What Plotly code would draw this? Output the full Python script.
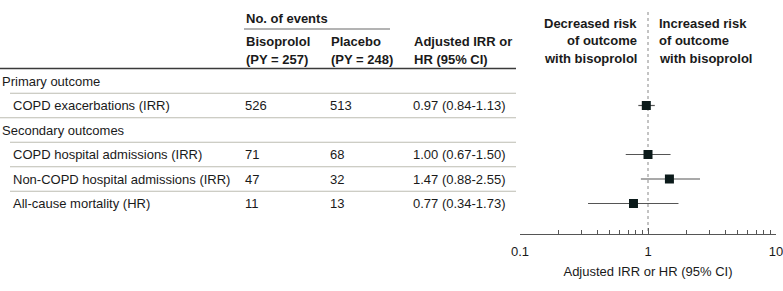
import plotly.graph_objects as go

# ---- data ----
row_labels = ["Primary outcome", "COPD exacerbations (IRR)", "Secondary outcomes",
              "COPD hospital admissions (IRR)", "Non-COPD hospital admissions (IRR)",
              "All-cause mortality (HR)"]
is_section = [True, False, True, False, False, False]
bisoprolol_events = ["", "526", "", "71", "47", "11"]
placebo_events = ["", "513", "", "68", "32", "13"]
estimate = [None, 0.97, None, 1.00, 1.47, 0.77]
ci_low = [None, 0.84, None, 0.67, 0.88, 0.34]
ci_high = [None, 1.13, None, 1.50, 2.55, 1.73]
tick_vals = [0.1, 1, 10]
tick_text = ["0.1", "1", "10"]
minor_vals = [0.2, 0.3, 0.4, 0.5, 0.6, 0.7, 0.8, 0.9, 2, 3, 4, 5, 6, 7, 8, 9]

W, H = 783, 291
FONT = "Liberation Sans, Arial, sans-serif"
TXT = "#1a1a1a"
ROW0, ROWSTEP = 81, 24.5
AXIS_Y = 234
FS = 13


def row_of(px):
    return (px - ROW0) / ROWSTEP


def px(x):
    return x / W


yr_top = row_of(0)
yr_bot = row_of(AXIS_Y)

fig = go.Figure()

# forest points
rows = [i for i, e in enumerate(estimate) if e is not None]
xs = [estimate[i] for i in rows]
fig.add_trace(go.Scatter(
    x=xs, y=rows, mode="markers",
    marker=dict(symbol="square", size=9, color="#0b1a1a"),
    error_x=dict(type="data", symmetric=False,
                 array=[ci_high[i] - estimate[i] for i in rows],
                 arrayminus=[estimate[i] - ci_low[i] for i in rows],
                 color="#555555", thickness=1.2, width=0),
    showlegend=False, hoverinfo="skip", cliponaxis=False,
))

ann = []
shapes = []


def text(x, y, s, bold=False, anchor="left", size=FS):
    ann.append(dict(x=px(x), y=y, xref="paper", yref="y", text=("<b>%s</b>" % s) if bold else s,
                    showarrow=False, xanchor=anchor, yanchor="middle",
                    font=dict(family=FONT, size=size, color=TXT)))


# headers
text(244, row_of(18), "No. of events", bold=True)
text(244, row_of(41), "Bisoprolol", bold=True)
text(244, row_of(59), "(PY = 257)", bold=True)
text(329, row_of(41), "Placebo", bold=True)
text(329, row_of(59), "(PY = 248)", bold=True)
text(412, row_of(41), "Adjusted IRR or", bold=True)
text(412, row_of(59), "HR (95% CI)", bold=True)
for k, s in enumerate(["Decreased risk", "of outcome", "with bisoprolol"]):
    text(639, row_of(23 + 17.5 * k), s, bold=True, anchor="right")
for k, s in enumerate(["Increased risk", "of outcome", "with bisoprolol"]):
    text(657, row_of(23 + 17.5 * k), s, bold=True, anchor="left")

# body rows
for i, lab in enumerate(row_labels):
    text(0 if is_section[i] else 11, i, lab)
    if bisoprolol_events[i]:
        text(243, i, bisoprolol_events[i])
        text(328, i, placebo_events[i])
        text(411, i, "%.2f (%.2f-%.2f)" % (estimate[i], ci_low[i], ci_high[i]))


# lines
def hline(x0, x1, ypx, color, width):
    shapes.append(dict(type="line", xref="paper", yref="y", x0=px(x0), x1=px(x1),
                       y0=row_of(ypx), y1=row_of(ypx), line=dict(color=color, width=width)))


hline(244, 390, 29, "#9a9a9a", 1.5)
hline(0, 516, 68.5, "#3a3a3a", 1.6)
for i in range(len(row_labels) - 1):
    start = 0 if (not is_section[i] and is_section[i + 1]) else 10
    hline(start, 516, ROW0 + ROWSTEP * (i + 0.5), "#bdbdb2", 1.2)

shapes.append(dict(type="line", xref="x", yref="y", x0=1, x1=1, y0=row_of(12), y1=yr_bot,
                   line=dict(color="#888888", width=1, dash="dot"), layer="below"))

fig.update_layout(
    width=W, height=H, margin=dict(l=0, r=0, t=0, b=H - AXIS_Y, autoexpand=False),
    paper_bgcolor="white", plot_bgcolor="white",
    annotations=ann, shapes=shapes,
    xaxis=dict(type="log", range=[-1, 1], domain=[520 / W, 776 / W], automargin=False,
               showline=True, linecolor="#555555", linewidth=1,
               ticks="inside", ticklen=6, tickcolor="#555555", tickwidth=1,
               tickvals=tick_vals, ticktext=tick_text, showgrid=False, zeroline=False,
               ticklabeloverflow="allow", ticklabelstandoff=5,
               minor=dict(tickvals=minor_vals, ticks="inside", ticklen=4,
                          tickcolor="#555555", showgrid=False),
               tickfont=dict(family=FONT, size=FS, color=TXT),
               title=dict(text="Adjusted IRR or HR (95% CI)", standoff=9,
                          font=dict(family=FONT, size=FS, color=TXT)),
               fixedrange=True),
    yaxis=dict(visible=False, range=[yr_bot, yr_top], fixedrange=True, automargin=False),
)

fig.write_html("out.html", config={"displayModeBar": False, "staticPlot": True},
               post_script="document.body.style.margin='0';")
